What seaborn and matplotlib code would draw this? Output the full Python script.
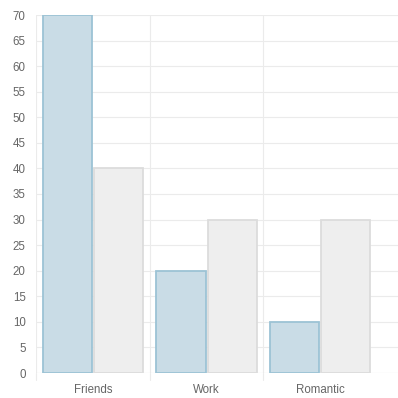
import matplotlib
matplotlib.use("Agg")
import matplotlib.pyplot as plt
import seaborn as sns
import pandas as pd

categories = ["Friends", "Work", "Romantic"]
series_a = [70, 20, 10]
series_b = [40, 30, 30]
series_names = ["A", "B"]
y_ticks = list(range(0, 75, 5))

df = pd.DataFrame({
    "category": categories * 2,
    "value": series_a + series_b,
    "series": [series_names[0]] * 3 + [series_names[1]] * 3,
})

sns.set_style("white")
plt.rcParams["font.family"] = ["Liberation Sans", "DejaVu Sans"]

fig = plt.figure(figsize=(3.98, 3.98), dpi=100)
W = H = 398
ax = fig.add_axes([36 / W, 1 - 373 / H, (398 - 36) / W, (373 - 15) / H])

sns.barplot(data=df, x="category", y="value", hue="series",
            palette=["#c9dce6", "#eeeeee"], width=0.9, gap=0.04,
            ax=ax, legend=False, saturation=1)

edges = ["#9cc3d5", "#dcdcdc"]
for i, cont in enumerate(ax.containers):
    for bar in cont:
        bar.set_edgecolor(edges[i])
        bar.set_linewidth(1.3)

ax.set_xlim(-0.5, 2.5 + 21 / 114)
ax.set_ylim(0, 70)
ax.set_yticks(y_ticks)
ax.set_xlabel("")
ax.set_ylabel("")
for s in ax.spines.values():
    s.set_visible(False)

ax.set_axisbelow(True)
ax.yaxis.grid(True, color="#ebebeb", linewidth=0.8)
for xv in [-0.5, 0.5, 1.5]:
    ax.axvline(xv, color="#ebebeb", linewidth=0.8, zorder=0)
    ax.plot([xv, xv], [0, -1.4], color="#ebebeb", linewidth=0.8, clip_on=False)
ax.axhline(0, color="#e0e0e0", linewidth=0.8, zorder=0)

ax.tick_params(axis="y", length=4.5, color="#ebebeb", labelsize=8.3, labelcolor="#666666", pad=3)
ax.tick_params(axis="x", length=0, labelsize=8.3, labelcolor="#666666", pad=8)

fig.savefig("out.png", dpi=100)
